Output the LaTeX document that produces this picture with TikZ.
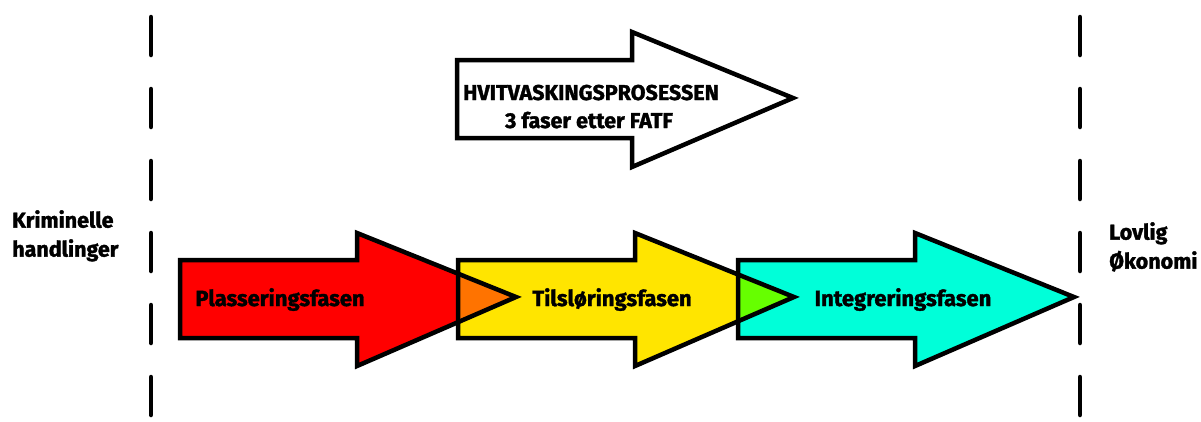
\documentclass[tikz,border=0pt]{standalone}
\usepackage{fontspec}
\setmainfont{Fira Sans}[BoldFeatures={FakeBold=1.6}]
\definecolor{phRed}{HTML}{FF0000}
\definecolor{phYellow}{HTML}{FFE500}
\definecolor{phCyan}{HTML}{00FFD9}
\definecolor{phOrange}{HTML}{FF7300}
\definecolor{phGreen}{HTML}{66FF00}
\begin{document}
\begin{tikzpicture}[x=1pt,y=-1pt,
  outline/.style={draw=black,line width=4.5pt,line join=miter},
  border/.style={black,line width=4.5pt,line cap=round,dash pattern=on 38pt off 34pt},
  label/.style={font=\bfseries\fontsize{22}{24}\selectfont,inner sep=0pt},
  title/.style={font=\bfseries\fontsize{21.5}{24}\selectfont,inner sep=0pt},
  side/.style={font=\bfseries\fontsize{21.5}{29}\selectfont,inner sep=0pt,align=left}]
\useasboundingbox (0,0) rectangle (1201,421);
% block arrow with its left edge at #1
\def\phase#1{(#1,260) -- (#1+177,260) -- (#1+177,233) -- (#1+336,297)
  -- (#1+177,366) -- (#1+177,338) -- (#1,338) -- cycle}
\def\body#1{(#1,260) rectangle (#1+177,338)}
% phase boundaries
\coordinate (lt) at (151,17);
\coordinate (lb) at (151,421);
\coordinate (rt) at (1080,17);
\coordinate (rb) at (1080,421);
\draw[border] (lt) -- (lb);
\draw[border] (rt) -- (rb);
% title arrow
\draw[outline,fill=white] (457,60) -- (632,60) -- (632,32) -- (793,98)
  -- (632,167) -- (632,138) -- (457,138) -- cycle;
\node[title,anchor=base] (title1) at (591,100) {HVITVASKINGSPROSESSEN};
\node[title,anchor=base] (title2) at (589,128) {3 faser etter FATF};
% the three phases
\fill[phRed] \phase{180};
\fill[phYellow] \phase{458};
\fill[phCyan] \phase{738};
\begin{scope}
  \clip \body{458};
  \fill[phOrange] \phase{180};
\end{scope}
\begin{scope}
  \clip \body{738};
  \fill[phGreen] \phase{458};
\end{scope}
\draw[outline] \phase{180};
\draw[outline] \phase{458};
\draw[outline] \phase{738};
\node[label,anchor=base] (p1) at (280,306) {Plasseringsfasen};
\node[label,anchor=base] (p2) at (612,306) {Tilsløringsfasen};
\node[label,anchor=base] (p3) at (903,306) {Integreringsfasen};
% endpoints
\node[side,anchor=north west] (start) at (12,210) {Kriminelle\\handlinger};
\node[side,anchor=north west] (end) at (1109,222) {Lovlig\\Økonomi};
\end{tikzpicture}
\end{document}
